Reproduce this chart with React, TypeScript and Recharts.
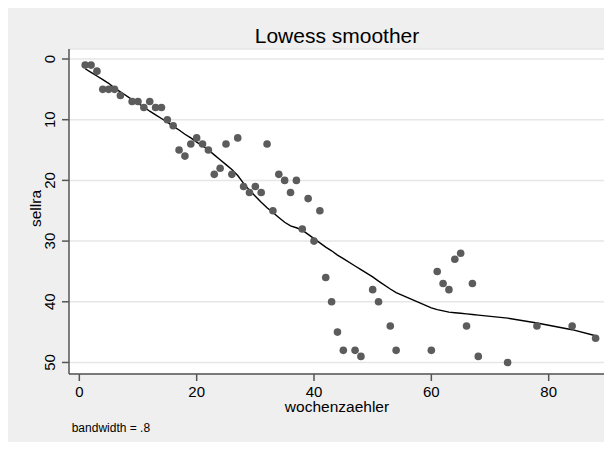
import { CartesianGrid, ComposedChart, Label, Line, Scatter, XAxis, YAxis } from "recharts";

// week counter (x), observed sellra (y) and the lowess fit evaluated at each week
const week = [
  1, 2, 3, 4, 5, 6, 7, 9, 10, 11, 12, 13, 14, 15, 16, 17, 18, 19, 20, 21, 22, 23, 24, 25, 26, 27, 28, 29, 30, 31, 32,
  33, 34, 35, 36, 37, 38, 39, 40, 41, 42, 43, 44, 45, 47, 48, 50, 51, 53, 54, 60, 61, 62, 63, 64, 65, 66, 67, 68, 73,
  78, 84, 88,
];
const sellra = [
  1, 1, 2, 5, 5, 5, 6, 7, 7, 8, 7, 8, 8, 10, 11, 15, 16, 14, 13, 14, 15, 19, 18, 14, 19, 13, 21, 22, 21, 22, 14,
  25, 19, 20, 22, 20, 28, 23, 30, 25, 36, 40, 45, 48, 48, 49, 38, 40, 44, 48, 48, 35, 37, 38, 33, 32, 44, 37, 49, 50,
  44, 44, 46,
];
const lowessFit = [
  1.6, 2.2, 2.8, 3.4, 4.0, 4.8, 5.4, 6.7, 7.3, 7.9, 8.6, 9.2, 9.8, 10.4, 11.1, 11.7, 12.4, 13.0, 13.7, 14.3, 15.0,
  15.8, 16.6, 17.4, 18.2, 19.2, 20.5, 21.6, 22.6, 23.6, 24.5, 25.3, 26.1, 26.9, 27.5, 27.8, 28.2, 28.9, 29.6, 30.3,
  31.0, 31.6, 32.3, 32.9, 34.1, 34.7, 35.9, 36.6, 37.9, 38.5, 41.0, 41.3, 41.5, 41.7, 41.8, 41.9, 42.0, 42.1, 42.2,
  42.7, 43.5, 44.6, 45.6,
];
const xTicks = [0, 20, 40, 60, 80];
const yTicks = [0, 10, 20, 30, 40, 50];

const points = week.map((x, i) => ({ x, y: sellra[i] }));
const smooth = week.map((x, i) => ({ x, y: lowessFit[i] }));

const FONT = "'Liberation Sans', Arial, Helvetica, sans-serif";
const AXIS = "#555555";

function YTick(props: any) {
  const { x, y, payload } = props;
  return (
    <text x={x} y={y} transform={`rotate(-90 ${x} ${y})`} textAnchor="middle" fontSize={15} fontFamily={FONT} fill="#000">
      {payload.value}
    </text>
  );
}

function Dot(props: any) {
  return <circle cx={props.cx} cy={props.cy} r={3.8} fill="#5c5c5c" />;
}

export default function App() {
  const W = 599;
  const H = 435;
  return (
    <div style={{ position: "relative", width: W, height: H, marginLeft: -1, marginTop: -1, background: "#efefef" }}>
      <ComposedChart width={W} height={H} margin={{ top: 42, right: 1, bottom: 0, left: 0 }}>
        <CartesianGrid vertical={false} stroke="#e6e6e6" strokeWidth={1.5} fill="#ffffff" />
        <XAxis
          type="number"
          dataKey="x"
          domain={[-1.76, 89.6]}
          ticks={xTicks}
          allowDataOverflow
          height={68}
          tickSize={7}
          tickMargin={5}
          stroke={AXIS}
          strokeWidth={1.5}
          tick={{ fontSize: 15, fontFamily: FONT, fill: "#000" }}
        >
          <Label
            content={(p: any) => (
              <text
                x={p.viewBox.x + p.viewBox.width / 2}
                y={p.viewBox.y + 38}
                textAnchor="middle"
                fontSize={15.5}
                fontFamily={FONT}
                fill="#000"
              >
                wochenzaehler
              </text>
            )}
          />
        </XAxis>
        <YAxis
          type="number"
          reversed
          domain={[-1.65, 51.9]}
          ticks={yTicks}
          allowDataOverflow
          width={62}
          tickSize={7}
          tickMargin={7}
          stroke={AXIS}
          strokeWidth={1.5}
          tick={<YTick />}
        >
          <Label
            content={(p: any) => {
              const lx = p.viewBox.x + 34;
              const ly = p.viewBox.y + p.viewBox.height / 2 - 3;
              return (
                <text x={lx} y={ly} transform={`rotate(-90 ${lx} ${ly})`} textAnchor="middle" fontSize={15.5} fontFamily={FONT} fill="#000">
                  sellra
                </text>
              );
            }}
          />
        </YAxis>
        <Scatter data={points} dataKey="y" shape={<Dot />} isAnimationActive={false} />
        <Line data={smooth} dataKey="y" type="linear" stroke="#000" strokeWidth={1.4} dot={false} activeDot={false} isAnimationActive={false} />
      </ComposedChart>
      <svg width={W} height={H} style={{ position: "absolute", left: 0, top: 0, pointerEvents: "none" }}>
        <text x={330} y={35.7} textAnchor="middle" fontSize={21} fontFamily={FONT} fill="#000">
          Lowess smoother
        </text>
        <text x={64.7} y={424.7} fontSize={12} fontFamily={FONT} fill="#000">
          bandwidth = .8
        </text>
      </svg>
    </div>
  );
}
